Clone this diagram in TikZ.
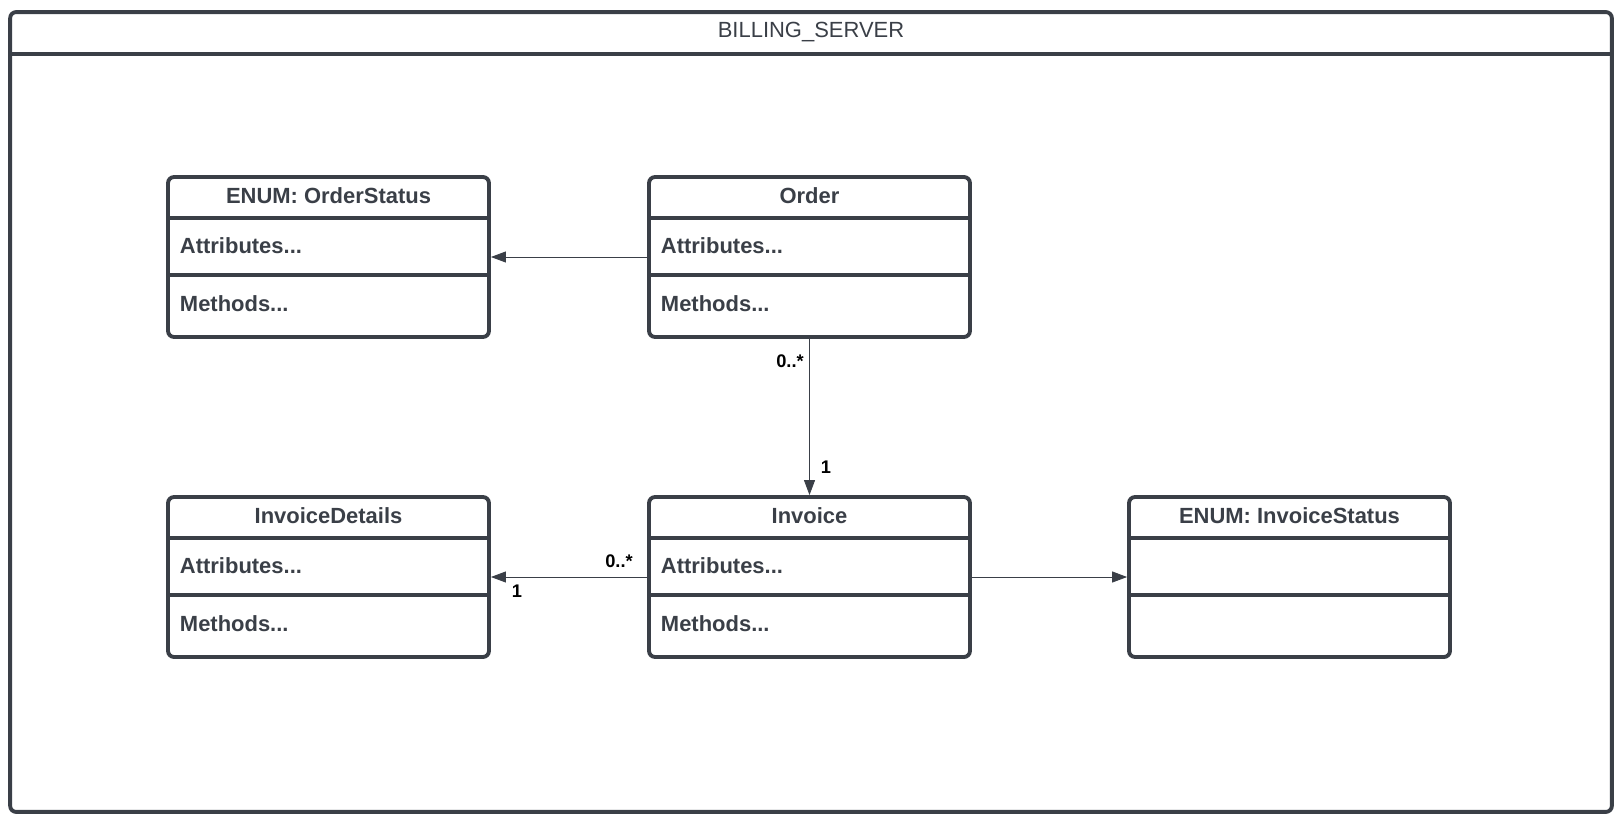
\documentclass[tikz,border=0pt]{standalone}
\usepackage{fontspec}
\setmainfont{Liberation Sans}
\usetikzlibrary{positioning,arrows.meta}
\definecolor{umlgrey}{RGB}{58,63,71}

% one class: name, position, title, attributes, methods
\newcommand{\umlclass}[5]{%
  \node[classbox] (#1) at (#2) {};
  \draw[divider] ([yshift=-0.86cm]#1.north west) -- ([yshift=-0.86cm]#1.north east);
  \draw[divider] ([yshift=-2.0cm]#1.north west) -- ([yshift=-2.0cm]#1.north east);
  \node[classtext] (#1-title) at ([yshift=-0.42cm]#1.north) {#3};
  \node[classtext,anchor=west] (#1-attr) at ([xshift=0.2cm,yshift=-1.42cm]#1.north west) {#4};
  \node[classtext,anchor=west] (#1-meth) at ([xshift=0.2cm,yshift=-2.58cm]#1.north west) {#5};
}

\begin{document}
\begin{tikzpicture}[x=0.02cm,y=-0.02cm,
  classbox/.style={draw=umlgrey,line width=2.2pt,rounded corners=0.12cm,
    minimum width=6.42cm,minimum height=3.2cm,inner sep=0pt},
  divider/.style={draw=umlgrey,line width=2.2pt},
  classtext/.style={text=umlgrey,font=\fontsize{12.5}{15}\selectfont\bfseries,inner sep=2pt},
  mult/.style={font=\fontsize{10.4}{12}\selectfont\bfseries,inner sep=1pt},
  assoc/.style={draw=umlgrey,line width=0.5pt,-{Triangle[length=0.3cm,width=0.22cm]}}]
\useasboundingbox (0,0) rectangle (1620,824);

% package frame
\node[draw=umlgrey,line width=2.2pt,rounded corners=0.12cm,
  minimum width=32.04cm,minimum height=16cm,inner sep=0pt] (server) at (811,412) {};
\draw[divider] ([yshift=-0.88cm]server.north west) -- ([yshift=-0.88cm]server.north east);
\node[text=umlgrey,font=\fontsize{12.5}{15}\selectfont] (server-title) at ([yshift=-0.44cm]server.north) {BILLING\_SERVER};

\umlclass{orderstatus}{328.5,257}{ENUM: OrderStatus}{Attributes...}{Methods...}
\umlclass{order}{809.5,257}{Order}{Attributes...}{Methods...}
\umlclass{details}{328.5,577}{InvoiceDetails}{Attributes...}{Methods...}
\umlclass{invoice}{809.5,577}{Invoice}{Attributes...}{Methods...}
\umlclass{invoicestatus}{1289.5,577}{ENUM: InvoiceStatus}{}{}

% associations
\draw[assoc] (order.west) -- (orderstatus.east);
\draw[assoc] (order.south) -- (invoice.north);
\draw[assoc] (invoice.west) -- (details.east);
\draw[assoc] (invoice.east) -- (invoicestatus.west);

\node[mult] (m-order) at (790,361) {0..*};
\node[mult] (m-invoice) at (826,467) {1};
\node[mult] (m-many) at (619,561) {0..*};
\node[mult] (m-one) at (517,591) {1};
\end{tikzpicture}
\end{document}
